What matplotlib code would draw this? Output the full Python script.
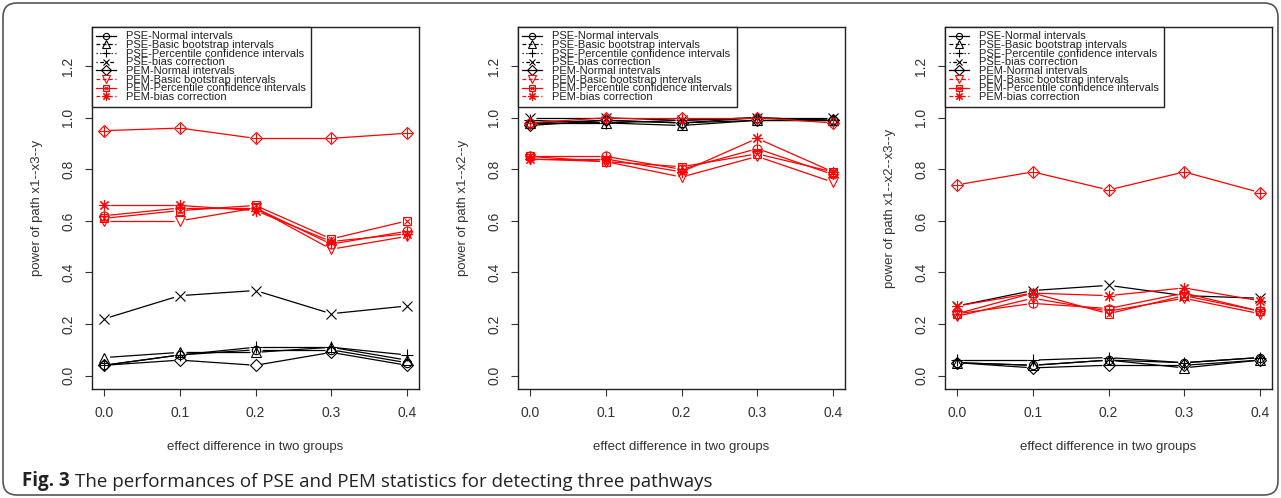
import matplotlib.pyplot as plt
import numpy as np
from matplotlib.lines import Line2D
from matplotlib.legend_handler import HandlerTuple
from matplotlib.patches import FancyBboxPatch
from matplotlib.transforms import IdentityTransform

plt.rcParams['font.family'] = ['Liberation Sans', 'DejaVu Sans']

effect_diff = [0.0, 0.1, 0.2, 0.3, 0.4]

legend_labels = [
    'PSE-Normal intervals',
    'PSE-Basic bootstrap intervals',
    'PSE-Percentile confidence intervals',
    'PSE-bias correction',
    'PEM-Normal intervals',
    'PEM-Basic bootstrap intervals',
    'PEM-Percentile confidence intervals',
    'PEM-bias correction',
]

# 10 series drawn per panel (the legend only names the first 8)
power_x1_x3_y = [
    [0.04, 0.08, 0.10, 0.10, 0.05],
    [0.07, 0.09, 0.09, 0.11, 0.06],
    [0.04, 0.08, 0.11, 0.11, 0.08],
    [0.22, 0.31, 0.33, 0.24, 0.27],
    [0.04, 0.06, 0.04, 0.09, 0.04],
    [0.60, 0.60, 0.65, 0.49, 0.54],
    [0.61, 0.64, 0.66, 0.53, 0.60],
    [0.66, 0.66, 0.64, 0.52, 0.55],
    [0.95, 0.96, 0.92, 0.92, 0.94],
    [0.62, 0.65, 0.65, 0.51, 0.56],
]

power_x1_x2_y = [
    [0.98, 0.99, 0.98, 1.00, 0.99],
    [0.98, 0.98, 0.97, 0.99, 0.99],
    [0.99, 0.98, 0.99, 1.00, 0.99],
    [1.00, 1.00, 0.99, 1.00, 1.00],
    [0.97, 0.99, 0.98, 0.99, 0.99],
    [0.84, 0.83, 0.77, 0.85, 0.75],
    [0.85, 0.83, 0.81, 0.86, 0.79],
    [0.84, 0.84, 0.79, 0.92, 0.79],
    [0.98, 1.00, 1.00, 1.00, 0.98],
    [0.85, 0.85, 0.80, 0.88, 0.78],
]

power_x1_x2_x3_y = [
    [0.05, 0.04, 0.06, 0.05, 0.07],
    [0.05, 0.04, 0.06, 0.03, 0.06],
    [0.06, 0.06, 0.07, 0.05, 0.07],
    [0.27, 0.33, 0.35, 0.31, 0.30],
    [0.05, 0.03, 0.04, 0.04, 0.06],
    [0.23, 0.30, 0.25, 0.30, 0.24],
    [0.24, 0.32, 0.24, 0.31, 0.25],
    [0.27, 0.32, 0.31, 0.34, 0.29],
    [0.74, 0.79, 0.72, 0.79, 0.71],
    [0.24, 0.28, 0.26, 0.32, 0.25],
]

panels = [
    (power_x1_x3_y, 'power of path x1--x3--y'),
    (power_x1_x2_y, 'power of path x1--x2--y'),
    (power_x1_x2_x3_y, 'power of path x1--x2--x3--y'),
]

RED = '#ff0000'
BLK = '#000000'
colors = [BLK] * 5 + [RED] * 5
markers = ['o', '^', '+', 'x', 'D', 'v', 's', (8, 2, 0), 'D', 'o']
sizes = [6, 7, 8, 6.5, 6.5, 7, 6, 8, 6.5, 6.5]
overlay = {6: ('x', 5), 8: ('+', 7), 9: ('+', 6.5)}
leg_dashes = [None, (3, 2), (1, 2), (1, 2, 3, 2), None, (3, 2), None, (3, 2)]
GAP = 6  # px, R type="b" gap around points


def draw_series(ax, y, k):
    c = colors[k]
    # line segments with gaps around the points (like R type="b")
    pts = ax.transData.transform(np.column_stack([effect_diff, y]))
    inv = ax.transData.inverted()
    for p, q in zip(pts[:-1], pts[1:]):
        d = q - p
        n = np.hypot(*d)
        if n <= 2 * GAP:
            continue
        u = d / n
        seg = inv.transform(np.array([p + u * GAP, q - u * GAP]))
        ax.plot(seg[:, 0], seg[:, 1], color=c, lw=0.9, solid_capstyle='butt')
    ax.plot(effect_diff, y, ls='none', marker=markers[k], ms=sizes[k],
            mfc='none', mec=c, mew=0.8)
    if k in overlay:
        m, s = overlay[k]
        ax.plot(effect_diff, y, ls='none', marker=m, ms=s, mec=c, mew=0.8)


fig = plt.figure(figsize=(12.81, 4.98), dpi=100)
W, H = 1281, 498
lefts = [92, 518, 945]
ax_w, top, bottom = 327, 27, 389

for (data, ylab), left in zip(panels, lefts):
    ax = fig.add_axes([left / W, 1 - bottom / H, ax_w / W, (bottom - top) / H])
    ax.set_xlim(-0.016, 0.416)
    ax.set_ylim(-0.052, 1.352)
    for k, y in enumerate(data):
        draw_series(ax, y, k)
    ax.set_xlim(-0.016, 0.416)
    ax.set_ylim(-0.052, 1.352)
    ax.set_xticks(effect_diff)
    ax.set_xticklabels(['0.0', '0.1', '0.2', '0.3', '0.4'])
    ax.set_yticks([0.0, 0.2, 0.4, 0.6, 0.8, 1.0, 1.2])
    ax.set_yticklabels(['0.0', '0.2', '0.4', '0.6', '0.8', '1.0', '1.2'])
    ax.tick_params(length=5, width=0.8, color='#333333', labelsize=10,
                   labelcolor='#333333', pad=7)
    ax.tick_params(axis='y', labelrotation=90)
    for lab in ax.get_yticklabels():
        lab.set_va('center')
    for sp in ax.spines.values():
        sp.set_color('#222222')
        sp.set_linewidth(1.0)
    ax.set_xlabel('effect difference in two groups', fontsize=9.5, color='#333333')
    ax.xaxis.set_label_coords(0.5, -0.145)
    ax.set_ylabel(ylab, fontsize=9.5, color='#333333')
    ax.yaxis.set_label_coords(-0.15, 0.5)

    handles = []
    for k in range(8):
        c = colors[k]
        h = Line2D([], [], color=c, lw=0.9, marker=markers[k], ms=sizes[k] * 0.75,
                   mfc='none', mec=c, mew=0.8)
        if leg_dashes[k] is not None:
            h.set_dashes(leg_dashes[k])
        if k == 6:
            h = (h, Line2D([], [], ls='none', marker='x', ms=3.2, mec=c, mew=0.8))
        handles.append(h)
    leg = ax.legend(handles, legend_labels, loc='upper left', borderaxespad=0,
                    fontsize=8, labelspacing=-0.12, handlelength=1.8,
                    handletextpad=0.9, borderpad=0.4, fancybox=False,
                    framealpha=1, edgecolor='#222222',
                    handler_map={tuple: HandlerTuple(ndivide=1, pad=0)})
    leg.get_frame().set_linewidth(1.0)
    for t in leg.get_texts():
        t.set_color('#222222')

# caption
cap_font = ['Open Sans', 'DejaVu Sans']
t1 = fig.text(22 / W, 1 - 486 / H, 'Fig. 3', fontsize=13.5, fontweight='bold',
              family=cap_font, color='#222222', va='baseline')
fig.axes[0].annotate('The performances of PSE and PEM statistics for detecting three pathways',
                     xy=(1, 0), xycoords=t1, xytext=(4, 0), textcoords='offset points',
                     fontsize=13.5, family=cap_font, color='#222222', va='bottom',
                     annotation_clip=False)

frame = FancyBboxPatch((3, 3), W - 6, H - 6, boxstyle='round,pad=0,rounding_size=14',
                       transform=IdentityTransform(), fill=False,
                       edgecolor='#555555', lw=1.2)
fig.add_artist(frame)

fig.savefig('out.png', dpi=100)
